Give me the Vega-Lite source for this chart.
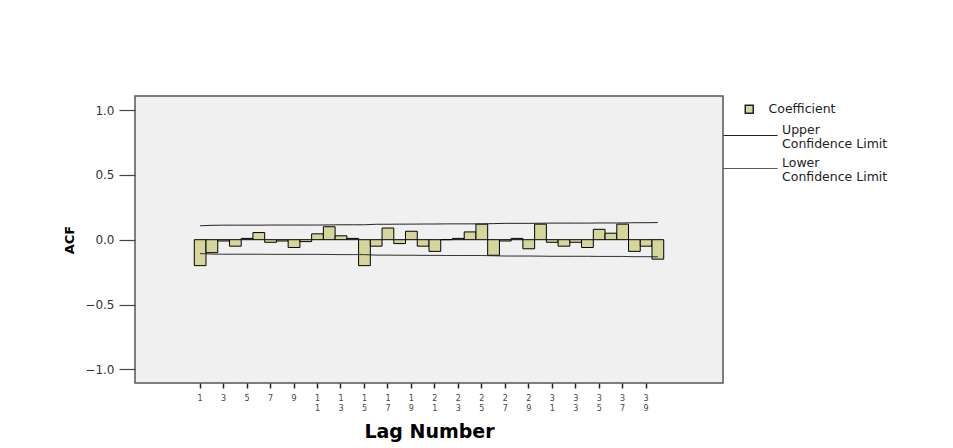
{
  "$schema": "https://vega.github.io/schema/vega-lite/v6.json",
  "autosize": {"type": "none"},
  "padding": {"left": 135, "top": 96, "right": 230, "bottom": 65},
  "width": 588,
  "height": 287,
  "background": "white",
  "config": {
    "font": "DejaVu Sans",
    "view": {"fill": "#F0F0F0", "stroke": "#555555", "strokeWidth": 1.5}
  },
  "data": {
    "values": [
      {"lag": 1, "acf": -0.20, "ucl": 0.107, "lcl": -0.107},
      {"lag": 2, "acf": -0.10, "ucl": 0.111, "lcl": -0.111},
      {"lag": 3, "acf": -0.01, "ucl": 0.112, "lcl": -0.112},
      {"lag": 4, "acf": -0.05, "ucl": 0.112, "lcl": -0.112},
      {"lag": 5, "acf": 0.01, "ucl": 0.112, "lcl": -0.112},
      {"lag": 6, "acf": 0.055, "ucl": 0.112, "lcl": -0.112},
      {"lag": 7, "acf": -0.02, "ucl": 0.113, "lcl": -0.113},
      {"lag": 8, "acf": -0.01, "ucl": 0.113, "lcl": -0.113},
      {"lag": 9, "acf": -0.06, "ucl": 0.113, "lcl": -0.113},
      {"lag": 10, "acf": -0.015, "ucl": 0.113, "lcl": -0.113},
      {"lag": 11, "acf": 0.045, "ucl": 0.113, "lcl": -0.113},
      {"lag": 12, "acf": 0.10, "ucl": 0.114, "lcl": -0.114},
      {"lag": 13, "acf": 0.03, "ucl": 0.115, "lcl": -0.115},
      {"lag": 14, "acf": 0.01, "ucl": 0.115, "lcl": -0.115},
      {"lag": 15, "acf": -0.20, "ucl": 0.115, "lcl": -0.115},
      {"lag": 16, "acf": -0.05, "ucl": 0.119, "lcl": -0.119},
      {"lag": 17, "acf": 0.09, "ucl": 0.119, "lcl": -0.119},
      {"lag": 18, "acf": -0.03, "ucl": 0.120, "lcl": -0.120},
      {"lag": 19, "acf": 0.065, "ucl": 0.120, "lcl": -0.120},
      {"lag": 20, "acf": -0.05, "ucl": 0.121, "lcl": -0.121},
      {"lag": 21, "acf": -0.09, "ucl": 0.121, "lcl": -0.121},
      {"lag": 22, "acf": 0.0, "ucl": 0.122, "lcl": -0.122},
      {"lag": 23, "acf": 0.01, "ucl": 0.122, "lcl": -0.122},
      {"lag": 24, "acf": 0.06, "ucl": 0.122, "lcl": -0.122},
      {"lag": 25, "acf": 0.12, "ucl": 0.122, "lcl": -0.122},
      {"lag": 26, "acf": -0.12, "ucl": 0.124, "lcl": -0.124},
      {"lag": 27, "acf": -0.01, "ucl": 0.126, "lcl": -0.126},
      {"lag": 28, "acf": 0.01, "ucl": 0.126, "lcl": -0.126},
      {"lag": 29, "acf": -0.07, "ucl": 0.126, "lcl": -0.126},
      {"lag": 30, "acf": 0.12, "ucl": 0.127, "lcl": -0.127},
      {"lag": 31, "acf": -0.02, "ucl": 0.128, "lcl": -0.128},
      {"lag": 32, "acf": -0.05, "ucl": 0.128, "lcl": -0.128},
      {"lag": 33, "acf": -0.02, "ucl": 0.128, "lcl": -0.128},
      {"lag": 34, "acf": -0.06, "ucl": 0.128, "lcl": -0.128},
      {"lag": 35, "acf": 0.08, "ucl": 0.129, "lcl": -0.129},
      {"lag": 36, "acf": 0.05, "ucl": 0.129, "lcl": -0.129},
      {"lag": 37, "acf": 0.12, "ucl": 0.129, "lcl": -0.129},
      {"lag": 38, "acf": -0.09, "ucl": 0.131, "lcl": -0.131},
      {"lag": 39, "acf": -0.05, "ucl": 0.131, "lcl": -0.131},
      {"lag": 40, "acf": -0.15, "ucl": 0.132, "lcl": -0.132}
    ]
  },
  "encoding": {
    "x": {
      "field": "lag",
      "type": "ordinal",
      "scale": {
        "domain": [-4,-3,-2,-1,0,1,2,3,4,5,6,7,8,9,10,11,12,13,14,15,16,17,18,19,20,21,22,23,24,25,26,27,28,29,30,31,32,33,34,35,36,37,38,39,40,41,42,43,44,45],
        "paddingInner": 0,
        "paddingOuter": 0.05
      },
      "axis": {
        "title": "Lag Number",
        "titleFont": "DejaVu Sans",
        "titleFontSize": 19,
        "titleFontWeight": "bold",
        "titleColor": "#000000",
        "titlePadding": 10,
        "values": [1,3,5,7,9,11,13,15,17,19,21,23,25,27,29,31,33,35,37,39],
        "labelExpr": "split(datum.label, '')",
        "labelAngle": 0,
        "labelFont": "DejaVu Sans",
        "labelFontSize": 8,
        "labelLineHeight": 10,
        "labelColor": "#444444",
        "labelPadding": 6,
        "tickSize": 5,
        "tickColor": "#222222",
        "tickWidth": 1.5,
        "domain": false,
        "grid": false
      }
    }
  },
  "layer": [
    {
      "mark": {"type": "bar", "stroke": "#000000", "strokeWidth": 1},
      "encoding": {
        "y": {
          "field": "acf",
          "type": "quantitative",
          "scale": {"domain": [-1.105, 1.108], "nice": false, "zero": true},
          "axis": {
            "title": "ACF",
            "titleFont": "DejaVu Sans",
            "titleFontSize": 13,
            "titleFontWeight": "bold",
            "titleColor": "#000000",
            "titlePadding": 8,
            "values": [-1, -0.5, 0, 0.5, 1],
            "format": ".1f",
            "labelFont": "DejaVu Sans",
            "labelFontSize": 12,
            "labelColor": "#333333",
            "labelPadding": 5,
            "tickSize": 16,
            "tickColor": "#444444",
            "tickWidth": 1.2,
            "domain": false,
            "grid": false
          }
        },
        "fill": {
          "datum": "Coefficient",
          "scale": {"domain": ["Coefficient"], "range": ["#D6D69C"]},
          "legend": {
            "title": null,
            "orient": "none",
            "legendX": 608,
            "legendY": 7,
            "padding": 0,
            "labelFont": "DejaVu Sans",
            "labelFontSize": 12.5,
            "labelColor": "#222222",
            "labelOffset": 13,
            "symbolType": "square",
            "symbolSize": 64,
            "symbolStrokeColor": "#222222",
            "symbolStrokeWidth": 1.5
          }
        }
      }
    },
    {
      "mark": {"type": "rule", "color": "#888888", "strokeWidth": 2},
      "encoding": {"y": {"datum": 0}}
    },
    {
      "mark": {"type": "line", "strokeWidth": 1},
      "encoding": {
        "y": {"field": "ucl", "type": "quantitative"},
        "stroke": {
          "datum": "Upper Confidence Limit",
          "scale": {"domain": ["Upper Confidence Limit"], "range": ["#222222"]},
          "legend": {
            "title": null,
            "orient": "none",
            "legendX": 588,
            "legendY": 12,
            "padding": 0,
            "labelFont": "DejaVu Sans",
            "labelFontSize": 12.5,
            "labelColor": "#222222",
            "labelLineHeight": 13,
            "labelOffset": 4,
            "symbolType": "M-1,0L1,0",
            "symbolSize": 2916,
            "symbolStrokeWidth": 1,
            "labelExpr": "['Upper', 'Confidence Limit']",
            "encode": {"labels": {"update": {"dy": {"value": -6}}}}
          }
        }
      }
    },
    {
      "mark": {"type": "line", "strokeWidth": 1, "stroke": "#222222"},
      "encoding": {
        "y": {"field": "lcl", "type": "quantitative"},
        "strokeDash": {
          "datum": "Lower Confidence Limit",
          "scale": {"domain": ["Lower Confidence Limit"], "range": [[1, 0]]},
          "legend": {
            "title": null,
            "orient": "none",
            "legendX": 588,
            "legendY": 45,
            "padding": 0,
            "labelFont": "DejaVu Sans",
            "labelFontSize": 12.5,
            "labelColor": "#222222",
            "labelLineHeight": 13,
            "labelOffset": 4,
            "symbolType": "M-1,0L1,0",
            "symbolSize": 2916,
            "symbolStrokeWidth": 1,
            "symbolStrokeColor": "#222222",
            "labelExpr": "['Lower', 'Confidence Limit']",
            "encode": {"labels": {"update": {"dy": {"value": -6}}}}
          }
        }
      }
    }
  ]
}
